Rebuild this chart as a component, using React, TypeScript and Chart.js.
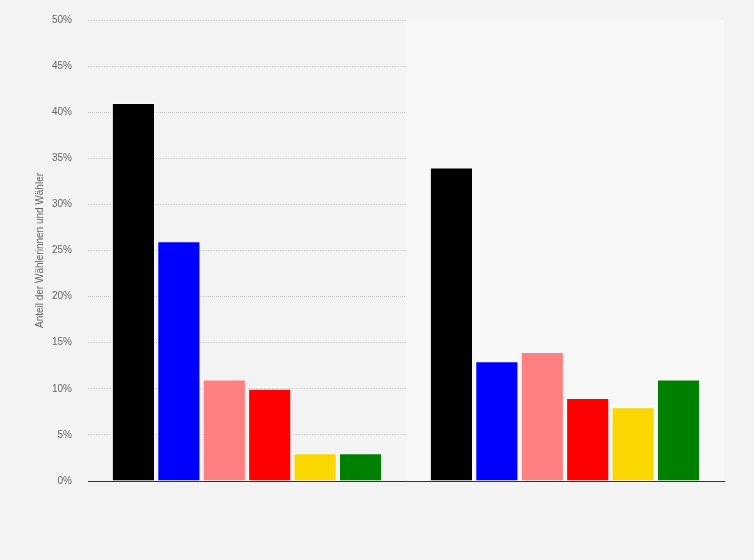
import { useEffect, useRef } from 'react'
import { Chart, registerables } from 'chart.js'

Chart.register(...registerables)

const FONT = '"Liberation Sans", Arial, sans-serif'

// two groups, labels not shown in the picture
const groups = ['Gruppe 1', 'Gruppe 2']
const parties = ['Partei A', 'Partei B', 'Partei C', 'Partei D', 'Partei E', 'Partei F']
const partyColors = ['#000000', '#0000ff', '#ff8080', '#ff0000', '#fad700', '#008000']
const shares = [
  [41, 34],
  [26, 13],
  [11, 14],
  [10, 9],
  [3, 8],
  [3, 11],
]
const yTicks = [0, 5, 10, 15, 20, 25, 30, 35, 40, 45, 50]

// lighter band behind the second group
const bandPlugin = {
  id: 'band',
  beforeDatasetsDraw(chart: Chart) {
    const x = chart.scales.x
    const { top, bottom } = chart.chartArea
    const step = x.getPixelForValue(1) - x.getPixelForValue(0)
    const left = x.getPixelForValue(1) - step / 2
    const ctx = chart.ctx
    ctx.save()
    ctx.fillStyle = '#f8f8f8'
    ctx.fillRect(left, top, step, bottom - top)
    ctx.restore()
  },
}

export default function App() {
  const ref = useRef<HTMLCanvasElement>(null)

  useEffect(() => {
    if (!ref.current) return
    const chart = new Chart(ref.current, {
      type: 'bar',
      data: {
        labels: groups,
        datasets: parties.map((p, i) => ({
          label: p,
          data: shares[i],
          backgroundColor: partyColors[i],
          borderColor: 'rgba(255,255,255,0.5)',
          borderWidth: 1,
          barPercentage: 0.95,
          categoryPercentage: 0.857,
        })),
      },
      options: {
        responsive: false,
        animation: false,
        layout: { padding: { left: 30, right: 30, top: 20, bottom: 71 } },
        plugins: {
          legend: { display: false },
          tooltip: { enabled: false },
        },
        scales: {
          x: {
            ticks: { display: false },
            grid: { display: false },
            border: { display: true, color: '#333333', width: 1 },
          },
          y: {
            min: 0,
            max: 50,
            afterFit: (scale: any) => {
              scale.width = 58
              scale.paddingTop = 0
              scale.paddingBottom = 0
            },
            afterBuildTicks: (scale: any) => { scale.ticks = yTicks.map(v => ({ value: v })) },
            ticks: {
              color: '#666666',
              padding: 16,
              font: { family: FONT, size: 10 },
              callback: (v: any) => `${v}%`,
            },
            grid: {
              color: '#cccccc',
              drawTicks: false,
            },
            border: { display: false, dash: [1, 1] },
            title: {
              display: true,
              text: 'Anteil der Wählerinnen und Wähler',
              color: '#666666',
              font: { family: FONT, size: 10 },
              padding: { top: 4, bottom: 4 },
            },
          },
        },
      },
      plugins: [bandPlugin],
    })
    return () => chart.destroy()
  }, [])

  return (
    <div style={{ position: 'fixed', left: 0, top: 0, width: 754, height: 560, background: '#f3f3f3' }}>
      <canvas ref={ref} width={754} height={560} style={{ width: 754, height: 560 }} />
    </div>
  )
}
